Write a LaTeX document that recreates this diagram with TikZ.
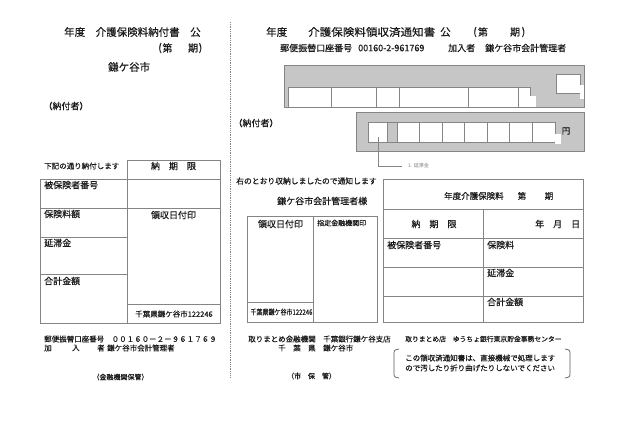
\documentclass[tikz,border=0pt]{standalone}
\usepackage{fontspec}
\setmainfont{Noto Sans CJK JP}[FakeBold=0.35]
\newfontfamily\thinfont{Noto Sans CJK JP}
\definecolor{boxgray}{HTML}{C6C6C6}
\definecolor{lineg}{HTML}{858585}
\definecolor{txtg}{HTML}{1A1A1A}
\newcommand\fsz[1]{\fontsize{#1pt}{#1pt}\selectfont}
\tikzset{
  tw/.style={inner sep=0pt, anchor=west, text=txtg},
  tc/.style={inner sep=0pt, anchor=center, text=txtg},
  tl/.style={draw=lineg, line width=0.8pt},
  gbox/.style={fill=boxgray, draw=lineg, line width=0.9pt},
  wcell/.style={fill=white, draw=lineg, line width=0.7pt},
  gcell/.style={fill=boxgray, draw=lineg, line width=0.7pt},
  notch/.style={fill=white, draw=none},
}
\begin{document}
\begin{tikzpicture}[x=1pt,y=-1pt]
\useasboundingbox (0,0) rectangle (630,439);
\fill[white] (0,0) rectangle (630,439);

% separator
\draw[lineg, densely dotted, line width=0.8pt] (230,22) -- (230,378);

% ---------- left part ----------
\node[tw, font=\fsz{10.5}] (lt1) at (64,32) {年度　介護保険料納付書　公};
\node[tc, font=\fsz{10}] (lpa) at (160,48) {(};
\node[tc, font=\fsz{10}] (lpb) at (167.5,48) {第};
\node[tc, font=\fsz{10}] (lpc) at (193,48) {期};
\node[tc, font=\fsz{10}] (lpd) at (200.5,48) {)};
\node[tw, font=\fsz{10.5}] (lcity) at (108,67) {鎌ケ谷市};
\node[tc, font=\fsz{9}] (lpayer) at (66,106) {（納付者）};

\node[tw, font=\fsz{7.5}] (lnote) at (44,166) {下記の通り納付します};
\draw[tl] (127,160) rectangle (220,323);
\draw[tl] (40,179) -- (40,323) -- (127,323);
\draw[tl] (40,179) -- (220,179);
\draw[tl] (40,208) -- (220,208);
\draw[tl] (40,237) -- (127,237);
\draw[tl] (40,274) -- (127,274);
\draw[tl] (127,304) -- (220,304);
\node[tc, font=\fsz{9}] (ldue) at (173.5,166) {納　期　限};
\node[tw, font=\fsz{9}] (lins) at (44,185) {被保険者番号};
\node[tw, font=\fsz{9}] (lfee) at (44,214) {保険料額};
\node[tw, font=\fsz{9}] (llate) at (44,243) {延滞金};
\node[tw, font=\fsz{9}] (ltot) at (44,281) {合計金額};
\node[tc, font=\fsz{9}] (lstamp) at (173.5,215) {領収日付印};
\node[tc, font=\fsz{7.5}] (lcode) at (174,314) {千葉県鎌ケ谷市122246};

\node[tw, font=\fsz{7.5}] (lacc) at (44,339) {郵便振替口座番号　００１６０－２－９６１７６９};
\node[tw, font=\fsz{7.5}] (lk1) at (44,348) {加};
\node[tw, font=\fsz{7.5}] (lk2) at (72,348) {入};
\node[tw, font=\fsz{7.5}] (lk3) at (97,348) {者};
\node[tw, font=\fsz{7.5}] (lk4) at (107,348) {鎌ケ谷市会計管理者};
\node[tc, font=\fsz{7}] (lkeep) at (120.5,377) {（金融機関保管）};

% ---------- right part ----------
\node[tw, font=\fsz{10.5}] (rt1) at (266,32) {年度};
\node[tw, font=\fsz{10.5}] (rt2) at (308,32) {\scalebox{1.1}[1]{介護保険料領収済通知書}};
\node[tw, font=\fsz{10.5}] (rt3) at (440,32) {公};
\node[tc, font=\fsz{10}] (rpa) at (475,32) {(};
\node[tc, font=\fsz{10}] (rpb) at (483,32) {第};
\node[tc, font=\fsz{10}] (rpc) at (515,32) {期};
\node[tc, font=\fsz{10}] (rpd) at (523.5,32) {)};
\node[tw, font=\fsz{9}] (racc1) at (280,48) {郵便振替口座番号};
\node[tw, font=\fsz{9}] (racc2) at (358,48) {00160-2-961769};
\node[tw, font=\fsz{9}] (rjoin1) at (448,48) {加入者};
\node[tw, font=\fsz{9}] (rjoin2) at (485,48) {鎌ケ谷市会計管理者};

% upper gray box
\draw[gbox] (284,65) rectangle (584,107);
\draw[wcell] (288,87) rectangle (331,107);
\draw[wcell] (331,87) rectangle (376,107);
\draw[wcell] (376,87) rectangle (399,107);
\draw[wcell] (399,87) rectangle (468,107);
\draw[wcell] (468,87) rectangle (518,107);
\draw[wcell] (518,87) rectangle (530,107);
\fill[notch] (530.4,96) rectangle (536,106.5);
\draw[wcell] (556,74) rectangle (580,93);
\fill[notch] (580.4,85) rectangle (583.5,99);

% lower gray box
\node[tc, font=\fsz{9}] (rpayer) at (256,123) {（納付者）};
\draw[gbox] (356,112) rectangle (584,151);
\draw[wcell] (368,122) rectangle (387,142);
\draw[gcell] (387,122) rectangle (397,142);
\draw[wcell] (397,122) rectangle (419,142);
\draw[wcell] (419,122) rectangle (442,142);
\draw[wcell] (442,122) rectangle (464,142);
\draw[wcell] (464,122) rectangle (487,142);
\draw[wcell] (487,122) rectangle (509,142);
\draw[wcell] (509,122) rectangle (532,142);
\draw[wcell] (532,122) rectangle (555,142);
\fill[notch] (555.4,134) rectangle (561,144);
\node[tc, font=\fsz{8.5}] (ryen) at (566,131) {円};

% callout
\coordinate (cell1) at (378,137);
\node[tw, font=\thinfont\fsz{5}, text=gray] (lbl) at (408,166) {1. 延滞金};
\draw[lineg, line width=0.7pt] (cell1) |- ([xshift=-6pt]lbl.west);

% middle box
\node[tw, font=\fsz{7.8}] (mnote) at (236,181) {右のとおり収納しましたので通知します};
\node[tw, font=\fsz{9}] (mto) at (277,201) {鎌ケ谷市会計管理者様};
\draw[tl] (247,216) rectangle (377,322);
\draw[tl] (313,216) -- (313,322);
\draw[tl] (247,302) -- (313,302);
\node[tc, font=\fsz{9}] (mstamp) at (280.5,224) {領収日付印};
\node[tw, font=\fsz{7}] (mbank) at (317,223) {指定金融機関印};
\node[tc, font=\fsz{7.5}] (mcode) at (281.5,312) {\scalebox{0.8}[1]{千葉県鎌ケ谷市122246}};

% right table
\draw[tl] (383,179) rectangle (583,322);
\draw[tl] (383,209) -- (583,209);
\draw[tl] (383,238) -- (583,238);
\draw[tl] (383,267) -- (583,267);
\draw[tl] (383,296) -- (583,296);
\draw[tl] (483,209) -- (483,322);
\node[tw, font=\fsz{8.5}] (rhead) at (444,196) {年度介護保険料};
\node[tc, font=\fsz{8.5}] (rhb) at (522,196) {第};
\node[tc, font=\fsz{8.5}] (rhc) at (549,196) {期};
\node[tc, font=\fsz{9}] (rdue) at (434,224) {納　期　限};
\node[tw, font=\fsz{9}] (rdate) at (535,224) {年　月　日};
\node[tw, font=\fsz{9}] (rins) at (387,245) {被保険者番号};
\node[tw, font=\fsz{9}] (rfee) at (487,245) {保険料};
\node[tw, font=\fsz{9}] (rlate) at (487,273) {延滞金};
\node[tw, font=\fsz{9}] (rtot) at (487,302) {合計金額};

% bottom right
\node[tw, font=\fsz{7.5}] (rb1) at (248,339) {取りまとめ金融機関　千葉銀行鎌ケ谷支店};
\node[tw, font=\fsz{7.5}] (rb2) at (278,348) {千　葉　県　鎌ケ谷市};
\node[tw, font=\fsz{6.8}] (rb3) at (405,339) {取りまとめ店　ゆうちょ銀行東京貯金事務センター};
\node[tw, font=\fsz{7.5}] (rn1) at (405,358) {この領収済通知書は、直接機械で処理します};
\node[tw, font=\fsz{7.5}] (rn2) at (405,368) {ので汚したり折り曲げたりしないでください};
\draw[lineg!70!black, line width=0.7pt] (399,349) .. controls (394,350) .. (394,355) -- (394,372) .. controls (394,377) .. (399,378);
\draw[lineg!70!black, line width=0.7pt] (565,349) .. controls (570,350) .. (570,355) -- (570,372) .. controls (570,377) .. (565,378);
\node[tc, font=\fsz{7}] (rkeep) at (311.5,376) {（市　保　管）};
\end{tikzpicture}
\end{document}
